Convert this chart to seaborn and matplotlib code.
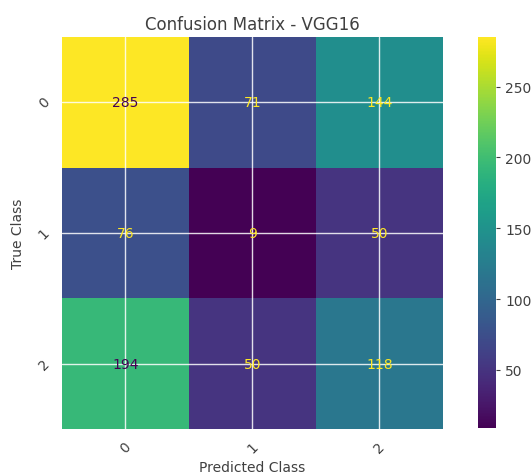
import numpy as np
import pandas as pd
import matplotlib
matplotlib.use('Agg')
import matplotlib.pyplot as plt
import seaborn as sns

# Confusion matrix values
class_labels = ['0', '1', '2']
row_true_0 = [285, 71, 144]
row_true_1 = [76, 9, 50]
row_true_2 = [194, 50, 118]

sns.set_style('darkgrid')
plt.rcParams['font.family'] = ['DejaVu Sans']

cm = pd.DataFrame([row_true_0, row_true_1, row_true_2],
                  index=class_labels, columns=class_labels)

fig = plt.figure(figsize=(5.32, 4.77), dpi=100)
ax = fig.add_axes([62 / 532, 1 - 430 / 477, 381 / 532, 392 / 477])
cax = fig.add_axes([478 / 532, 1 - 429 / 477, 18 / 532, 391 / 477])

sns.heatmap(cm, cmap='viridis', annot=False, cbar=True, cbar_ax=cax, ax=ax,
            vmin=cm.values.min(), vmax=cm.values.max())

# text colours like sklearn: dark on bright cells, yellow on dark cells
cmap = plt.get_cmap('viridis')
thresh = (cm.values.max() + cm.values.min()) / 2.0
for i in range(cm.shape[0]):
    for j in range(cm.shape[1]):
        v = cm.values[i, j]
        color = cmap(0.0) if v >= thresh else cmap(1.0)
        ax.text(j + 0.5, i + 0.5, str(v), ha='center', va='center',
                color=color, fontsize=10)

ax.set_axisbelow(False)
ax.grid(True, color='white', linewidth=1.0, alpha=0.85)
ax.tick_params(axis='x', rotation=45, colors='.25')
ax.tick_params(axis='y', rotation=45, colors='.25')
ax.set_title('Confusion Matrix - VGG16', fontsize=12, color='.25')
ax.set_xlabel('Predicted Class', fontsize=10, color='.25')
ax.set_ylabel('True Class', fontsize=10, color='.25', labelpad=8)

cax.tick_params(right=True, length=3, labelsize=10, colors='.25')
cax.set_yticks([50, 100, 150, 200, 250])

plt.savefig('out.png', dpi=100)
